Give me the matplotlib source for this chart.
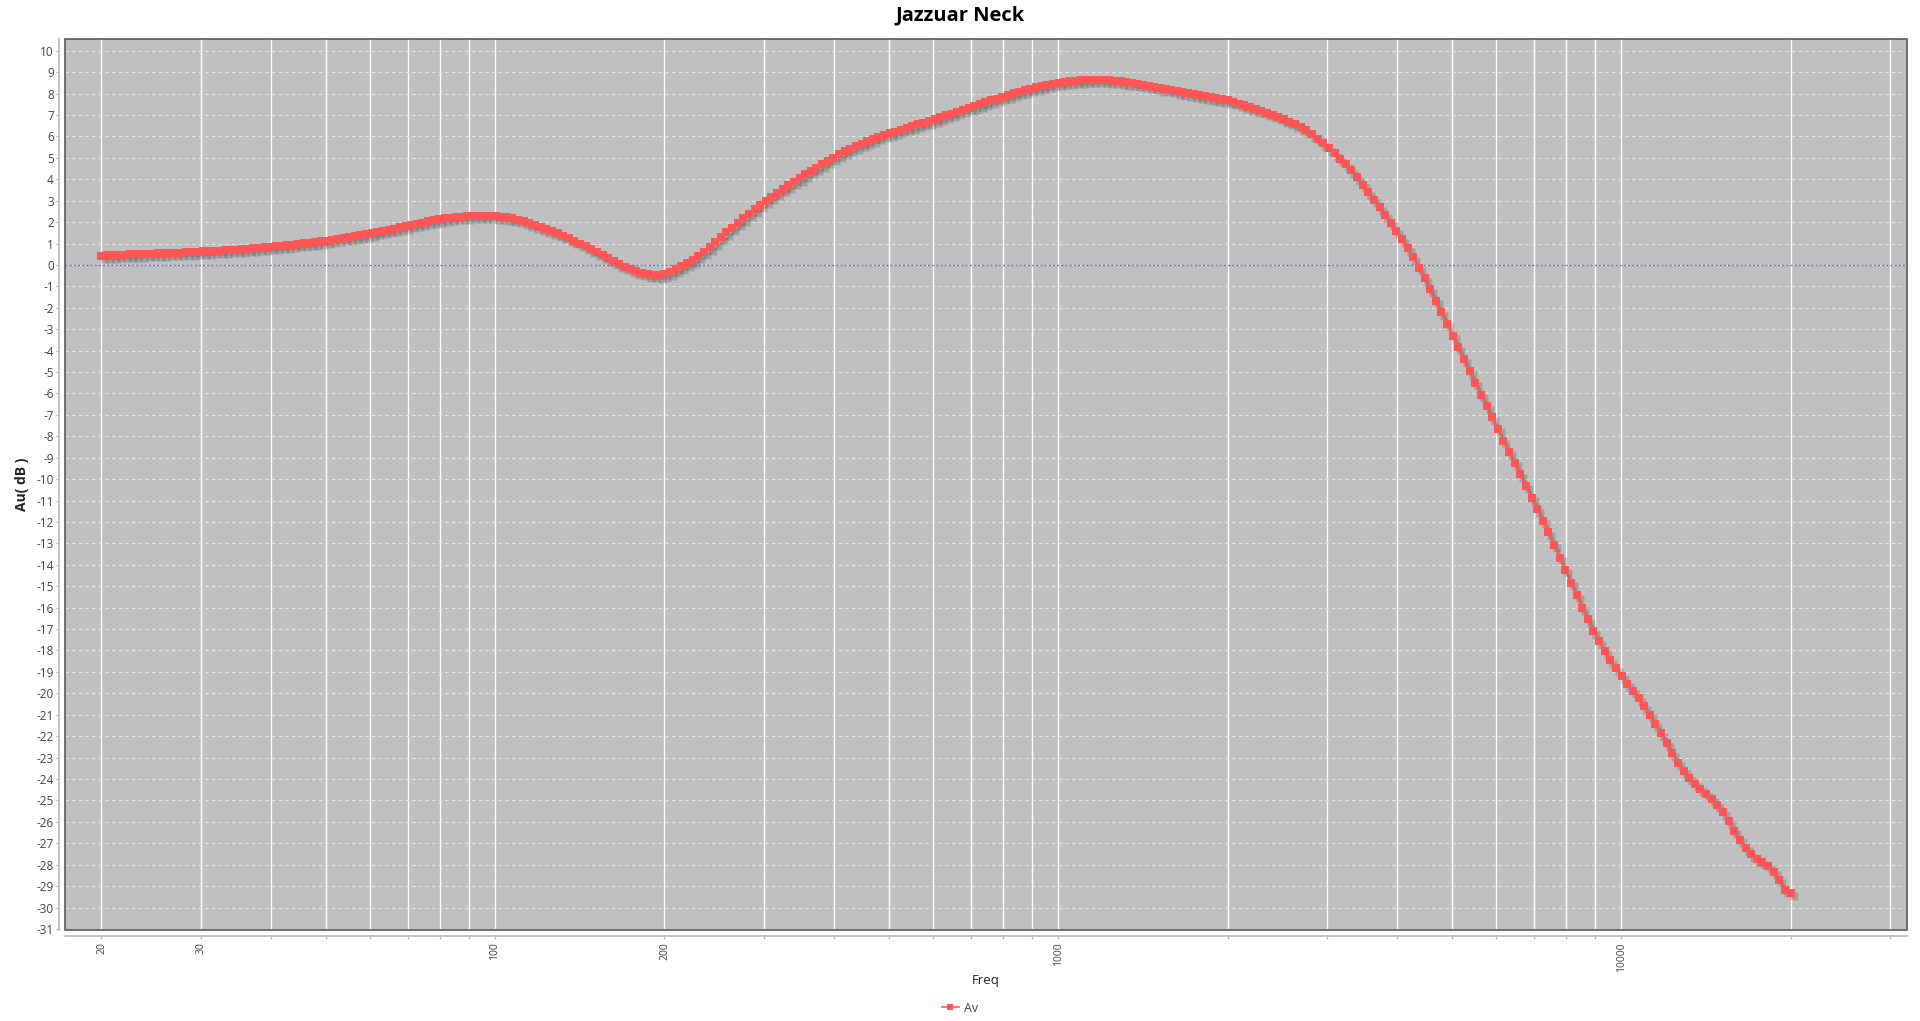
"""
plot.py - frequency response chart "Jazzuar Neck" (gain in dB vs frequency, log axis).
"""

import matplotlib
matplotlib.use("Agg")
import matplotlib.pyplot as plt
from matplotlib.lines import Line2D
from matplotlib.patches import Rectangle
from matplotlib.transforms import offset_copy

# ---------------------------------------------------------------------------
# Data
# ---------------------------------------------------------------------------

TITLE = "Jazzuar Neck"
X_LABEL = "Freq"
Y_LABEL = "Au( dB )"
SERIES_NAME = "Av"

# sweep frequencies, Hz (100 points per decade, 20 Hz .. 20 kHz)
FREQ = [
    20.00, 20.47, 20.94, 21.43, 21.93, 22.44, 22.96, 23.50, 24.05, 24.61,
    25.18, 25.76, 26.37, 26.98, 27.61, 28.25, 28.91, 29.58, 30.27, 30.98,
    31.70, 32.44, 33.19, 33.96, 34.76, 35.57, 36.39, 37.24, 38.11, 39.00,
    39.91, 40.83, 41.79, 42.76, 43.76, 44.77, 45.82, 46.88, 47.98, 49.09,
    50.24, 51.41, 52.61, 53.83, 55.08, 56.37, 57.68, 59.02, 60.40, 61.81,
    63.25, 64.72, 66.23, 67.77, 69.35, 70.96, 72.62, 74.31, 76.04, 77.81,
    79.62, 81.48, 83.37, 85.32, 87.30, 89.34, 91.42, 93.55, 95.73, 97.96,
    100.24, 102.57, 104.96, 107.41, 109.91, 112.47, 115.09, 117.77, 120.51, 123.32,
    126.19, 129.13, 132.14, 135.22, 138.37, 141.59, 144.89, 148.26, 151.72, 155.25,
    158.87, 162.57, 166.35, 170.23, 174.19, 178.25, 182.40, 186.65, 191.00, 195.45,
    200.0, 204.7, 209.4, 214.3, 219.3, 224.4, 229.6, 235.0, 240.5, 246.1,
    251.8, 257.6, 263.7, 269.8, 276.1, 282.5, 289.1, 295.8, 302.7, 309.8,
    317.0, 324.4, 331.9, 339.6, 347.6, 355.7, 363.9, 372.4, 381.1, 390.0,
    399.1, 408.3, 417.9, 427.6, 437.6, 447.7, 458.2, 468.8, 479.8, 490.9,
    502.4, 514.1, 526.1, 538.3, 550.8, 563.7, 576.8, 590.2, 604.0, 618.1,
    632.5, 647.2, 662.3, 677.7, 693.5, 709.6, 726.2, 743.1, 760.4, 778.1,
    796.2, 814.8, 833.7, 853.2, 873.0, 893.4, 914.2, 935.5, 957.3, 979.6,
    1002.4, 1025.7, 1049.6, 1074.1, 1099.1, 1124.7, 1150.9, 1177.7, 1205.1, 1233.2,
    1261.9, 1291.3, 1321.4, 1352.2, 1383.7, 1415.9, 1448.9, 1482.6, 1517.2, 1552.5,
    1588.7, 1625.7, 1663.5, 1702.3, 1741.9, 1782.5, 1824.0, 1866.5, 1910.0, 1954.5,
    2000, 2047, 2094, 2143, 2193, 2244, 2296, 2350, 2405, 2461,
    2518, 2576, 2637, 2698, 2761, 2825, 2891, 2958, 3027, 3098,
    3170, 3244, 3319, 3396, 3476, 3557, 3639, 3724, 3811, 3900,
    3991, 4083, 4179, 4276, 4376, 4477, 4582, 4688, 4798, 4909,
    5024, 5141, 5261, 5383, 5508, 5637, 5768, 5902, 6040, 6181,
    6325, 6472, 6623, 6777, 6935, 7096, 7262, 7431, 7604, 7781,
    7962, 8148, 8337, 8532, 8730, 8934, 9142, 9355, 9573, 9796,
    10024, 10257, 10496, 10741, 10991, 11247, 11509, 11777, 12051, 12332,
    12619, 12913, 13214, 13522, 13837, 14159, 14489, 14826, 15172, 15525,
    15887, 16257, 16635, 17023, 17419, 17825, 18240, 18665, 19100, 19545,
    20000,
]

# gain, dB
GAIN_DB = [
    0.44, 0.45, 0.46, 0.47, 0.48, 0.49, 0.50, 0.51, 0.52, 0.53,
    0.54, 0.55, 0.56, 0.57, 0.58, 0.59, 0.60, 0.61, 0.63, 0.64,
    0.66, 0.67, 0.69, 0.71, 0.72, 0.74, 0.76, 0.78, 0.80, 0.82,
    0.85, 0.87, 0.90, 0.92, 0.95, 0.98, 1.01, 1.04, 1.07, 1.10,
    1.14, 1.18, 1.22, 1.26, 1.30, 1.35, 1.39, 1.44, 1.49, 1.54,
    1.59, 1.65, 1.70, 1.76, 1.81, 1.87, 1.93, 1.98, 2.03, 2.08,
    2.13, 2.17, 2.21, 2.24, 2.26, 2.28, 2.29, 2.30, 2.30, 2.29,
    2.28, 2.26, 2.22, 2.17, 2.10, 2.03, 1.95, 1.86, 1.77, 1.67,
    1.57, 1.47, 1.36, 1.24, 1.12, 1.00, 0.87, 0.73, 0.59, 0.45,
    0.31, 0.17, 0.04, -0.08, -0.19, -0.29, -0.37, -0.43, -0.46, -0.47,
    -0.44, -0.33, -0.21, -0.07, 0.07, 0.23, 0.42, 0.62, 0.83, 1.06,
    1.29, 1.52, 1.74, 1.96, 2.17, 2.38, 2.59, 2.80, 3.00, 3.19,
    3.37, 3.55, 3.72, 3.89, 4.06, 4.23, 4.39, 4.55, 4.71, 4.86,
    5.01, 5.16, 5.30, 5.43, 5.55, 5.67, 5.78, 5.88, 5.98, 6.07,
    6.15, 6.23, 6.31, 6.40, 6.48, 6.56, 6.64, 6.72, 6.80, 6.89,
    6.98, 7.07, 7.16, 7.25, 7.34, 7.42, 7.51, 7.59, 7.68, 7.76,
    7.85, 7.93, 8.01, 8.08, 8.15, 8.22, 8.29, 8.35, 8.41, 8.46,
    8.51, 8.55, 8.58, 8.61, 8.63, 8.64, 8.65, 8.65, 8.64, 8.62,
    8.60, 8.57, 8.54, 8.50, 8.46, 8.41, 8.36, 8.31, 8.26, 8.22,
    8.17, 8.12, 8.07, 8.02, 7.97, 7.92, 7.88, 7.83, 7.78, 7.73,
    7.68, 7.61, 7.53, 7.45, 7.37, 7.28, 7.20, 7.11, 7.01, 6.91,
    6.80, 6.69, 6.57, 6.44, 6.28, 6.10, 5.90, 5.68, 5.45, 5.21,
    4.96, 4.70, 4.42, 4.10, 3.75, 3.40, 3.05, 2.70, 2.34, 1.97,
    1.60, 1.20, 0.79, 0.35, -0.12, -0.62, -1.14, -1.67, -2.20, -2.74,
    -3.31, -3.85, -4.40, -4.97, -5.49, -6.05, -6.59, -7.11, -7.65, -8.21,
    -8.73, -9.23, -9.77, -10.31, -10.86, -11.40, -11.94, -12.49, -13.07, -13.66,
    -14.24, -14.83, -15.42, -16.00, -16.54, -17.09, -17.57, -18.04, -18.46, -18.83,
    -19.21, -19.55, -19.88, -20.24, -20.60, -21.01, -21.41, -21.87, -22.32, -22.80,
    -23.23, -23.61, -23.94, -24.22, -24.46, -24.68, -24.93, -25.21, -25.56, -25.98,
    -26.41, -26.83, -27.21, -27.51, -27.74, -27.87, -28.04, -28.34, -28.70, -29.17,
    -29.30,
]

# x grid / tick positions and which of them carry a label
X_TICKS = [20, 30, 40, 50, 60, 70, 80, 90,
           100, 200, 300, 400, 500, 600, 700, 800, 900,
           1000, 2000, 3000, 4000, 5000, 6000, 7000, 8000, 9000,
           10000, 20000, 30000]
X_TICK_LABELS = {20: "20", 30: "30", 100: "100", 200: "200", 1000: "1000", 10000: "10000"}
Y_TICKS = list(range(-31, 11))

# ---------------------------------------------------------------------------
# Style
# ---------------------------------------------------------------------------

plt.rcParams["font.family"] = ["Open Sans", "DejaVu Sans"]

LINE_COLOR   = "#ff5555"
PLOT_BG      = "#c0c0c0"
BORDER_COLOR = "#5a5a5a"
AXIS_COLOR   = "#b8b8b8"
TEXT_COLOR   = "#444444"

W, H = 1920, 1021
fig = plt.figure(figsize=(W / 100, H / 100), dpi=100)
fig.patch.set_facecolor("white")

# plot area in pixels: left 65, right 1907, top 39, bottom 930
ax = fig.add_axes([65 / W, 1 - 930 / H, (1907 - 65) / W, (930 - 39) / H])
ax.set_facecolor(PLOT_BG)
ax.set_xscale("log")
ax.set_xlim(17.23, 32200)
ax.set_ylim(-31.05, 10.55)

# grid
for f in X_TICKS:
    ax.axvline(f, color="white", lw=1.0, zorder=1)
for v in Y_TICKS:
    ax.axhline(v, color="#e6e6e6", lw=0.8, ls=(0, (3, 3)), zorder=1)
ax.axhline(0, color="#6a6aff", lw=1.0, ls=(0, (1.5, 1.5)), zorder=2)

# soft shadow under the series
for dx, dy, alpha, ms in [(4, -4.5, 0.10, 6.4), (3, -3.5, 0.14, 5.8)]:
    tr = offset_copy(ax.transData, fig=fig, x=dx, y=dy, units="dots")
    ax.plot(FREQ, GAIN_DB, transform=tr, color="#404040", alpha=alpha, lw=1.5,
            marker="s", ms=ms, mew=0, zorder=3)

ax.plot(FREQ, GAIN_DB, color=LINE_COLOR, lw=1.5, marker="s", ms=5.6, mew=0, zorder=4)

# axes: offset light axis lines, dark frame around the plot area
ax.spines["left"].set_position(("outward", 4))
ax.spines["bottom"].set_position(("outward", 4))
for side in ("left", "bottom"):
    ax.spines[side].set_color(AXIS_COLOR)
    ax.spines[side].set_linewidth(1.2)
ax.spines["top"].set_visible(False)
ax.spines["right"].set_visible(False)
ax.add_patch(Rectangle((0, 0), 1, 1, transform=ax.transAxes, fill=False,
                       edgecolor=BORDER_COLOR, lw=1.2, zorder=6, clip_on=False))

ax.set_yticks(Y_TICKS)
ax.set_yticklabels([str(v) for v in Y_TICKS])
ax.set_xticks(X_TICKS)
ax.set_xticklabels([X_TICK_LABELS.get(f, "") for f in X_TICKS], rotation=90)
ax.xaxis.set_minor_locator(matplotlib.ticker.NullLocator())
ax.tick_params(axis="y", length=2, width=1, color=AXIS_COLOR, labelsize=8.5,
               labelcolor=TEXT_COLOR, pad=2)
ax.tick_params(axis="x", length=2, width=1, color=AXIS_COLOR, labelsize=7.5,
               labelcolor=TEXT_COLOR, pad=3)

# texts
fig.text(0.5, 1 - 15 / H, TITLE, ha="center", va="center",
         fontsize=14.5, fontweight="bold", color="black")
fig.text(22 / W, 1 - 484 / H, Y_LABEL, ha="center", va="center", rotation=90,
         fontsize=10, fontweight="bold", color="#222222")
fig.text(986 / W, 1 - 980 / H, X_LABEL, ha="center", va="center",
         fontsize=9.5, color="#222222")

handle = Line2D([], [], color=LINE_COLOR, lw=1.2, marker="s", ms=5, mew=0)
fig.legend([handle], [SERIES_NAME], loc="center", bbox_to_anchor=(0.5, 1 - 1008 / H),
           frameon=False, fontsize=9, handlelength=1.3, handletextpad=0.4,
           labelcolor=TEXT_COLOR)

plt.savefig("out.png", dpi=100, facecolor=fig.get_facecolor())
plt.close(fig)
